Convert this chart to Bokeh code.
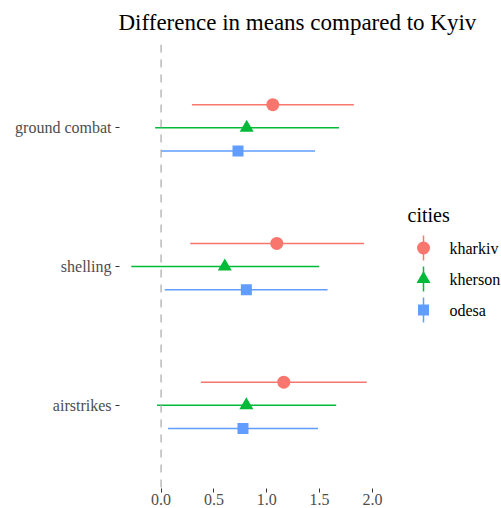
from bokeh.plotting import figure
from bokeh.models import Range1d, FixedTicker, Span, ColumnDataSource, PrintfTickFormatter
from bokeh.layouts import row, column
from bokeh.embed import file_html
from bokeh.resources import INLINE
from bokeh.core.properties import value

# ---------------- data ----------------
categories = ["ground combat", "shelling", "airstrikes"]
cities = ["kharkiv", "kherson", "odesa"]

kharkiv_mean = [1.057, 1.095, 1.161]
kharkiv_lo = [0.292, 0.276, 0.377]
kharkiv_hi = [1.824, 1.921, 1.946]

kherson_mean = [0.810, 0.603, 0.807]
kherson_lo = [-0.056, -0.282, -0.038]
kherson_hi = [1.683, 1.497, 1.657]

odesa_mean = [0.728, 0.807, 0.775]
odesa_lo = [0.000, 0.035, 0.066]
odesa_hi = [1.457, 1.575, 1.485]

x_ticks = [0.0, 0.5, 1.0, 1.5, 2.0]
title_text = "Difference in means compared to Kyiv"
legend_title = "cities"

# ---------------- styles ----------------
colors = ["#F8766D", "#00BA38", "#619CFF"]
markers = ["circle", "triangle", "square"]
marker_sizes = [13, 14, 11]
FONT = "Liberation Serif"
dodge_width = 0.5
W, H = 501, 508
TOP = 44          # height of the title strip
MAIN_W = 390


def blank(fig):
    fig.outline_line_color = None
    fig.xgrid.visible = False
    fig.ygrid.visible = False
    fig.background_fill_color = "white"
    fig.border_fill_color = "white"
    fig.min_border_left = 0
    fig.min_border_right = 0
    fig.min_border_top = 0
    fig.min_border_bottom = 0


means = [kharkiv_mean, kherson_mean, odesa_mean]
los = [kharkiv_lo, kherson_lo, odesa_lo]
his = [kharkiv_hi, kherson_hi, odesa_hi]

n_cat = len(categories)
cat_pos = [n_cat - i for i in range(n_cat)]  # first category at top

all_lo = min(min(l) for l in los)
all_hi = max(max(h) for h in his)
pad = (all_hi - all_lo) * 0.05

# ---------------- title strip ----------------
tfig = figure(frame_width=W, frame_height=TOP, output_backend="svg", toolbar_location=None,
              x_range=Range1d(0, W), y_range=Range1d(TOP, 0),
              x_axis_location=None, y_axis_location=None, title=None)
blank(tfig)
tfig.text(x=[118], y=[22], text=[title_text], text_font=value(FONT),
          text_font_size=value("23px"), text_baseline="middle",
          text_align="left", text_color="black")

# ---------------- main panel ----------------
p = figure(width=MAIN_W, height=H - TOP, output_backend="svg", toolbar_location=None,
           x_range=Range1d(all_lo - pad, all_hi + pad),
           y_range=Range1d(0.4, n_cat + 0.6), title=None)
blank(p)
p.min_border_left = 119
p.min_border_right = 12
p.min_border_top = 0
p.min_border_bottom = 20

for ax in (p.xaxis[0], p.yaxis[0]):
    ax.axis_line_color = None
    ax.major_tick_line_color = "#333333"
    ax.major_tick_in = 0
    ax.major_tick_out = 4
    ax.minor_tick_line_color = None
    ax.major_label_text_font = FONT
    ax.major_label_text_font_size = "16px"
    ax.major_label_text_color = "#4D4D4D"

p.xaxis[0].ticker = FixedTicker(ticks=x_ticks)
p.xaxis[0].formatter = PrintfTickFormatter(format="%.1f")
p.xaxis[0].major_label_standoff = 1
p.yaxis[0].ticker = FixedTicker(ticks=cat_pos)
p.yaxis[0].major_label_overrides = {cp: c for cp, c in zip(cat_pos, categories)}
p.yaxis[0].major_label_standoff = 4

p.add_layout(Span(location=0, dimension="height", line_color="#A8A8A8",
                  line_width=1.2, line_dash="8 7"))

for j, city in enumerate(cities):
    off = (1 - j) * dodge_width / 3.0
    src = ColumnDataSource(dict(
        y=[cp + off for cp in cat_pos], m=means[j], lo=los[j], hi=his[j]))
    p.segment(x0="lo", y0="y", x1="hi", y1="y", source=src,
              line_color=colors[j], line_width=1.5)
    p.scatter(x="m", y="y", source=src, marker=markers[j], size=marker_sizes[j],
              fill_color=colors[j], line_color=None)

# ---------------- legend panel ----------------
LEG_W = W - MAIN_W
leg = figure(frame_width=LEG_W, frame_height=H - TOP, output_backend="svg",
             toolbar_location=None,
             x_range=Range1d(MAIN_W, W), y_range=Range1d(H, TOP),
             x_axis_location=None, y_axis_location=None, title=None)
blank(leg)

key_x = 423
key_y0 = 247.5
key_step = 31
key_half = 12.5
for j, city in enumerate(cities):
    ky = key_y0 + j * key_step
    leg.segment(x0=[key_x], y0=[ky - key_half], x1=[key_x], y1=[ky + key_half],
                line_color=colors[j], line_width=1.5)
    leg.scatter(x=[key_x], y=[ky], marker=markers[j], size=marker_sizes[j],
                fill_color=colors[j], line_color=None)
    leg.text(x=[449], y=[ky], text=[city], text_font=value(FONT),
             text_font_size=value("16px"), text_baseline="middle",
             text_align="left", text_color="black")

leg.text(x=[407], y=[214], text=[legend_title], text_font=value(FONT),
         text_font_size=value("20px"), text_baseline="middle",
         text_align="left", text_color="black")

layout = column(tfig, row(p, leg))
open("out.html", "w").write(file_html(layout, INLINE))
